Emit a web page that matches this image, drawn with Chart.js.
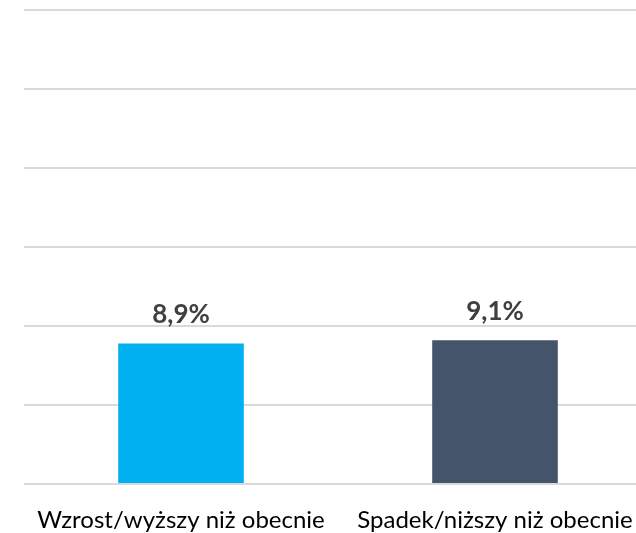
<!DOCTYPE html>
<html>
<head>
<meta charset="utf-8">
<script src="https://cdn.jsdelivr.net/npm/chart.js@4"></script>
<style>
  html, body {
    margin: 0;
    padding: 0;
    background: #ffffff;
  }
  .clip {
    width: 636px;
    height: 533px;
    overflow: hidden;
  }
  .wrap {
    width: 652px;
    height: 533px;
  }
</style>
</head>
<body>
<div class="clip">
  <div class="wrap">
    <canvas id="chart"></canvas>
  </div>
</div>
<script>
const categories = ["Wzrost/wyższy niż obecnie", "Spadek/niższy niż obecnie"];
const values = [8.9, 9.1];
const barColors = ["#00B0F0", "#44546A"];
const axisMax = 30;
const axisStep = 5;

// draws the "8,9%" labels above each bar
const valueLabels = {
  id: "valueLabels",
  afterDatasetsDraw(chart)
  {
    const ctx = chart.ctx;
    const meta = chart.getDatasetMeta(0);
    ctx.save();
    ctx.font = "bold 26px Lato";
    ctx.fillStyle = "#404040";
    ctx.textAlign = "center";
    ctx.textBaseline = "alphabetic";
    meta.data.forEach((bar, i) => {
      const text = values[i].toFixed(1).replace(".", ",") + "%";
      ctx.fillText(text, bar.x, bar.y - 20);
    });
    ctx.restore();
  },
};

new Chart(document.getElementById("chart"), {
  type: "bar",
  data: {
    labels: categories,
    datasets: [{
      data: values,
      backgroundColor: barColors,
      barPercentage: 0.4,
      categoryPercentage: 1,
    }],
  },
  options: {
    responsive: true,
    maintainAspectRatio: false,
    animation: false,
    layout: {
      padding: {left: 24, right: 0, top: 10, bottom: 0},
    },
    plugins: {
      legend: {display: false},
      tooltip: {enabled: false},
    },
    scales: {
      x: {
        grid: {display: false},
        border: {display: false},
        ticks: {
          color: "#000000",
          font: {family: "Lato", size: 24},
          padding: 14,
          maxRotation: 0,
        },
        afterFit(scale)
        {
          scale.height = 49;
          scale.paddingLeft = 0;
          scale.paddingRight = 0;
        },
      },
      y: {
        min: 0,
        max: axisMax,
        ticks: {display: false, stepSize: axisStep},
        grid: {color: "#d9d9d9", lineWidth: 2, drawTicks: false},
        border: {display: false},
        afterFit(scale)
        {
          scale.width = 0;
        },
      },
    },
  },
  plugins: [valueLabels],
});
</script>
</body>
</html>
